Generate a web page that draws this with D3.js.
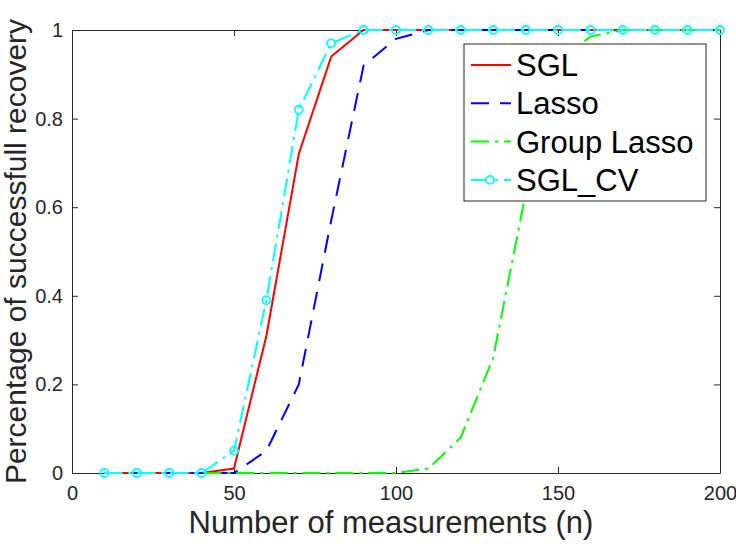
<!DOCTYPE html>
<html>
<head>
<meta charset="utf-8">
<script src="https://cdn.jsdelivr.net/npm/d3@7"></script>
<style>
    body { margin: 0; background: #fff; }
    svg text { font-family: "Liberation Sans", Arial, Helvetica, sans-serif; }
</style>
</head>
<body>
<svg id="SvgContainer"></svg>
<script>
// sample sizes
var nValues = [10, 20, 30, 40, 50, 60, 70, 80, 90, 100,
               110, 120, 130, 140, 150, 160, 170, 180, 190, 200];

var sglValues   = [0, 0, 0, 0, 0.01, 0.31, 0.72, 0.94, 1, 1,
                   1, 1, 1, 1, 1, 1, 1, 1, 1, 1];
var lassoValues = [0, 0, 0, 0, 0, 0.05, 0.2, 0.57, 0.92, 0.98,
                   1, 1, 1, 1, 1, 1, 1, 1, 1, 1];
var groupValues = [0, 0, 0, 0, 0, 0, 0, 0, 0, 0,
                   0.01, 0.08, 0.26, 0.63, 0.93, 0.985, 1, 1, 1, 1];
var sglCvValues = [0, 0, 0, 0, 0.05, 0.39, 0.82, 0.97, 1, 1,
                   1, 1, 1, 1, 1, 1, 1, 1, 1, 1];

var seriesNames = ["SGL", "Lasso", "Group Lasso", "SGL_CV"];
var xTicks = [0, 50, 100, 150, 200];
var yTicks = [0, 0.2, 0.4, 0.6, 0.8, 1];

function DrawChart() {
    var width = 736;
    var height = 544;
    var plotLeft = 72, plotRight = 720, plotTop = 30, plotBottom = 473;
    var axisColor = "#262626";

    var series = [
        {name: seriesNames[0], values: sglValues,   color: "#ff0000", dash: null,       marker: false},
        {name: seriesNames[1], values: lassoValues, color: "#0000ff", dash: "18,11",    marker: false},
        {name: seriesNames[2], values: groupValues, color: "#00ff00", dash: "18,6,3,6", marker: false},
        {name: seriesNames[3], values: sglCvValues, color: "#00ffff", dash: "18,6,3,6", marker: true}
    ];

    var svg = d3.select("svg")
        .attr("width", width)
        .attr("height", height);

    var x = d3.scaleLinear().domain([0, 200]).range([plotLeft, plotRight]);
    var y = d3.scaleLinear().domain([0, 1]).range([plotBottom, plotTop]);

    function styleAxis(g) {
        g.select(".domain").attr("stroke", axisColor);
        g.selectAll(".tick line").attr("stroke", axisColor);
        g.selectAll("text").attr("fill", axisColor).style("font-size", "20px");
    }

    // axes, MATLAB style: ticks inside, box on
    svg.append("g")
        .attr("transform", "translate(0," + plotBottom + ")")
        .call(d3.axisBottom(x).tickValues(xTicks).tickSizeInner(-6).tickSizeOuter(0).tickPadding(13))
        .call(styleAxis);

    svg.append("g")
        .attr("transform", "translate(" + plotLeft + ",0)")
        .call(d3.axisLeft(y).tickValues(yTicks).tickFormat(d3.format("~g")).tickSizeInner(-6).tickSizeOuter(0).tickPadding(9))
        .call(styleAxis);

    svg.append("g")
        .attr("transform", "translate(0," + plotTop + ")")
        .call(d3.axisTop(x).tickValues(xTicks).tickSizeInner(-6).tickSizeOuter(0).tickFormat(""))
        .call(styleAxis);

    svg.append("g")
        .attr("transform", "translate(" + plotRight + ",0)")
        .call(d3.axisRight(y).tickValues(yTicks).tickSizeInner(-6).tickSizeOuter(0).tickFormat(""))
        .call(styleAxis);

    // lines
    var line = d3.line()
        .x(function (d, i) { return x(nValues[i]); })
        .y(function (d) { return y(d); });

    series.forEach(function (s) {
        svg.append("path")
            .datum(s.values)
            .attr("fill", "none")
            .attr("stroke", s.color)
            .attr("stroke-width", 2)
            .attr("stroke-dasharray", s.dash)
            .attr("d", line);

        if (s.marker) {
            svg.append("g")
                .selectAll("circle")
                .data(s.values)
                .enter()
                .append("circle")
                .attr("cx", function (d, i) { return x(nValues[i]); })
                .attr("cy", function (d) { return y(d); })
                .attr("r", 4)
                .attr("fill", "none")
                .attr("stroke", s.color)
                .attr("stroke-width", 1.8);
        }
    });

    // axis labels
    svg.append("text")
        .attr("x", (plotLeft + plotRight) / 2 - 5)
        .attr("y", 533)
        .attr("text-anchor", "middle")
        .attr("fill", axisColor)
        .style("font-size", "31px")
        .text("Number of measurements (n)");

    svg.append("text")
        .attr("transform", "translate(26," + ((plotTop + plotBottom) / 2) + ") rotate(-90)")
        .attr("text-anchor", "middle")
        .attr("fill", axisColor)
        .style("font-size", "30px")
        .text("Percentage of successfull recovery");

    // legend
    var legendX = 464, legendY = 44, legendW = 242, legendH = 157;
    var rowStep = 38.3, firstRow = 65;

    var legend = svg.append("g");
    legend.append("rect")
        .attr("x", legendX)
        .attr("y", legendY)
        .attr("width", legendW)
        .attr("height", legendH)
        .attr("fill", "#fff")
        .attr("stroke", axisColor)
        .attr("stroke-width", 1);

    var rows = legend.selectAll(".LegendRow")
        .data(series)
        .enter()
        .append("g")
        .attr("class", "LegendRow")
        .attr("transform", function (d, i) {
            return "translate(0," + (firstRow + i * rowStep) + ")";
        });

    rows.append("line")
        .attr("x1", 471)
        .attr("x2", 511)
        .attr("y1", 0)
        .attr("y2", 0)
        .attr("stroke", function (d) { return d.color; })
        .attr("stroke-width", 2)
        .attr("stroke-dasharray", function (d) { return d.dash; });

    rows.filter(function (d) { return d.marker; })
        .append("circle")
        .attr("cx", 490)
        .attr("cy", 0)
        .attr("r", 4)
        .attr("fill", "#fff")
        .attr("stroke", function (d) { return d.color; })
        .attr("stroke-width", 1.8);

    rows.append("text")
        .attr("x", 516)
        .attr("y", 11)
        .attr("fill", "#000")
        .style("font-size", "31px")
        .text(function (d) { return d.name; });
}

DrawChart();
</script>
</body>
</html>
